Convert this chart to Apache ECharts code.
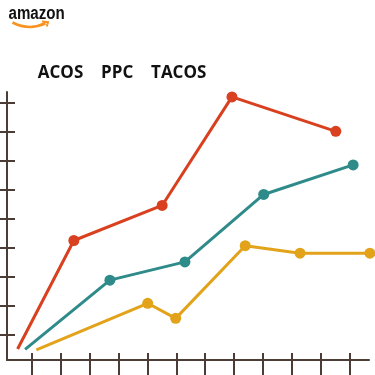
<!DOCTYPE html>
<html><head><meta charset="utf-8">
<script src="https://cdn.jsdelivr.net/npm/echarts@6/dist/echarts.min.js"></script>
<style>html,body{margin:0;padding:0;background:#fff}#c{width:375px;height:375px}</style>
</head><body><div id="c"></div>
<script>
// Series names (legend)
const seriesNames = ['ACOS', 'PPC', 'TACOS'];
// Values in axis units (ticks sit at whole numbers)
const acosX = [0.50, 2.45, 5.51, 7.93, 11.53];
const acosY = [0.49, 4.24, 5.45, 9.20, 8.01];
const ppcX = [0.76, 3.70, 6.30, 9.03, 12.13];
const ppcY = [0.48, 2.87, 3.50, 5.83, 6.85];
const tacosX = [1.15, 5.01, 5.98, 8.39, 10.29, 12.71];
const tacosY = [0.46, 2.07, 1.55, 4.06, 3.80, 3.80];
// Tick positions
const xTicks = [1, 2, 3, 4, 5, 6, 7, 8, 9, 10, 11, 12];
const yTicks = [1, 2, 3, 4, 5, 6, 7, 8, 9];
const xMin = 0.133, xMax = 12.68, yMin = 0.111, yMax = 9.37;

const colors = ['#D8401F', '#2E8B8A', '#E2A31B'];
const axisColor = '#4B3D36';

function toData(xs, ys) {
  return xs.map((x, i) => i === 0 ? { value: [x, ys[i]], symbol: 'none' } : [x, ys[i]]);
}
const seriesData = [toData(acosX, acosY), toData(ppcX, ppcY), toData(tacosX, tacosY)];

function xAxisDef(inside, showLine) {
  return {
    type: 'value', min: xMin, max: xMax, position: 'bottom',
    axisLine: { show: showLine, onZero: false, lineStyle: { color: axisColor, width: 2 } },
    axisTick: { show: true, inside: inside, length: inside ? 7 : 15, customValues: xTicks, lineStyle: { color: axisColor, width: 2 } },
    axisLabel: { show: false }, splitLine: { show: false }
  };
}
function yAxisDef(inside, showLine) {
  return {
    type: 'value', min: yMin, max: yMax, position: 'left',
    axisLine: { show: showLine, onZero: false, lineStyle: { color: axisColor, width: 2 } },
    axisTick: { show: true, inside: inside, length: inside ? 8 : 7, customValues: yTicks, lineStyle: { color: axisColor, width: 2 } },
    axisLabel: { show: false }, splitLine: { show: false }
  };
}

const chart = echarts.init(document.getElementById('c'), null, { renderer: 'canvas' });
chart.setOption({
  animation: false,
  backgroundColor: '#ffffff',
  color: colors,
  grid: { left: 7, right: 6, top: 92, bottom: 15, containLabel: false },
  legend: {
    data: seriesNames,
    left: 26, top: 64.5, padding: 0,
    itemWidth: 0, itemHeight: 17, itemGap: 6,
    itemStyle: { opacity: 0 }, lineStyle: { opacity: 0 },
    textStyle: { color: '#111', fontFamily: '"Open Sans"', fontWeight: 'bold', fontSize: 17 }
  },
  xAxis: [xAxisDef(false, true), xAxisDef(true, false)],
  yAxis: [yAxisDef(false, true), yAxisDef(true, false)],
  series: seriesNames.map((name, i) => ({
    name: name, type: 'line', data: seriesData[i], clip: false,
    symbol: 'circle', symbolSize: 11, showSymbol: true,
    lineStyle: { width: 3, color: colors[i] },
    itemStyle: { color: colors[i] }
  })),
  graphic: [
    { type: 'text', x: 8.5, y: 14, scaleX: 0.84, style: { text: 'amazon', font: 'bold 18px "Liberation Sans"', fill: '#111', verticalAlign: 'middle' } },
    { type: 'bezierCurve', shape: { x1: 12.5, y1: 22.5, cpx1: 29, cpy1: 31, x2: 45.5, y2: 23.3 }, style: { stroke: '#F7931E', lineWidth: 2.6, fill: null } },
    { type: 'polyline', shape: { points: [[42, 21.6], [48, 22.2], [46.8, 26.5]] }, style: { stroke: '#F7931E', lineWidth: 2, fill: null } }
  ]
});
</script>
</body></html>
